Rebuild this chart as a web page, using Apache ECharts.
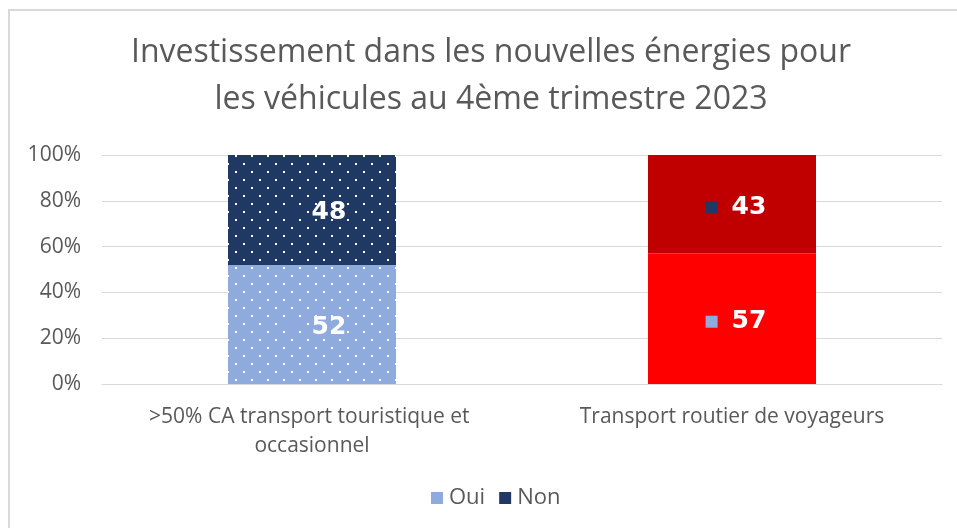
<!DOCTYPE html>
<html>
<head>
<meta charset="utf-8">
<script src="https://cdn.jsdelivr.net/npm/echarts@6/dist/echarts.min.js"></script>
<style>
  html, body { margin: 0; padding: 0; background: #fff; }
  #box { width: 957px; height: 528px; }
</style>
</head>
<body>
<div id="box"></div>
<script>
var categories = ['>50% CA transport touristique et occasionnel', 'Transport routier de voyageurs'];
var oui = [52, 57];
var non = [48, 43];
var yTicks = [0, 20, 40, 60, 80, 100];

// white dotted fill like the Excel "dotted" pattern
function dots(bg) {
	var c = document.createElement('canvas');
	c.width = 16;
	c.height = 16;
	var ctx = c.getContext('2d');
	ctx.fillStyle = bg;
	ctx.fillRect(0, 0, 16, 16);
	ctx.fillStyle = '#ffffff';
	ctx.fillRect(3, 3, 2, 2);
	ctx.fillRect(11, 11, 2, 2);
	return c;
}

var blue = '#8FAADC', navy = '#203864';
var red = '#FF0000', darkRed = '#C00000';

function label(keyColor) {
	return {
		show: true,
		position: 'inside',
		offset: [4, 3],
		formatter: '{k|}{v|{c}}',
		rich: {
			k: { width: 12, height: 12, backgroundColor: keyColor },
			v: { color: '#fff', fontFamily: 'DejaVu Sans', fontWeight: 'bold', fontSize: 25, padding: [0, 0, 0, 14] }
		}
	};
}

var chart = echarts.init(document.getElementById('box'));

chart.setOption({
	animation: false,
	title: {
		text: 'Investissement dans les nouvelles énergies pour\nles véhicules au 4ème trimestre 2023',
		left: 491,
		textAlign: 'center',
		top: 29,
		padding: 0,
		textStyle: { color: '#595959', fontFamily: 'Open Sans', fontWeight: 'normal', fontSize: 32, lineHeight: 47 }
	},
	legend: {
		data: [
			{ name: 'Oui', itemStyle: { color: blue } },
			{ name: 'Non', itemStyle: { color: navy } }
		],
		bottom: 14,
		left: 426,
		icon: 'rect',
		itemWidth: 12,
		itemHeight: 12,
		itemGap: 14,
		textStyle: { color: '#595959', fontFamily: 'Open Sans', fontSize: 22, padding: [0, 0, 0, 1] }
	},
	grid: { left: 102, right: 15, top: 155, bottom: 144 },
	xAxis: {
		type: 'category',
		data: categories,
		axisLine: { lineStyle: { color: '#D9D9D9' } },
		axisTick: { show: false },
		axisLabel: {
			interval: 0,
			color: '#595959', fontFamily: 'Open Sans', fontSize: 21, lineHeight: 29,
			margin: 19, width: 380, overflow: 'break'
		}
	},
	yAxis: {
		type: 'value',
		min: 0,
		max: 100,
		interval: 20,
		axisLine: { show: false },
		axisTick: { show: false },
		splitLine: { lineStyle: { color: '#D9D9D9' } },
		axisLabel: {
			color: '#595959', fontFamily: 'Open Sans', fontSize: 21, margin: 21,
			formatter: function (v) { return yTicks.indexOf(v) >= 0 ? v + '%' : ''; }
		}
	},
	series: [
		{
			name: 'Oui',
			type: 'bar',
			stack: 'total',
			barWidth: '40%',
			itemStyle: { color: blue },
			label: label(blue),
			data: [
				{ value: oui[0], itemStyle: { color: { image: dots(blue), repeat: 'repeat' } } },
				{ value: oui[1], itemStyle: { color: red } }
			]
		},
		{
			name: 'Non',
			type: 'bar',
			stack: 'total',
			barWidth: '40%',
			itemStyle: { color: navy },
			label: label(navy),
			data: [
				{ value: non[0], itemStyle: { color: { image: dots(navy), repeat: 'repeat' } } },
				{ value: non[1], itemStyle: { color: darkRed } }
			]
		}
	],
	graphic: [{
		type: 'rect',
		shape: { x: 9, y: 10, width: 1200, height: 1200 },
		style: { fill: 'none', stroke: '#D9D9D9', lineWidth: 2 },
		silent: true
	}]
});
</script>
</body>
</html>
